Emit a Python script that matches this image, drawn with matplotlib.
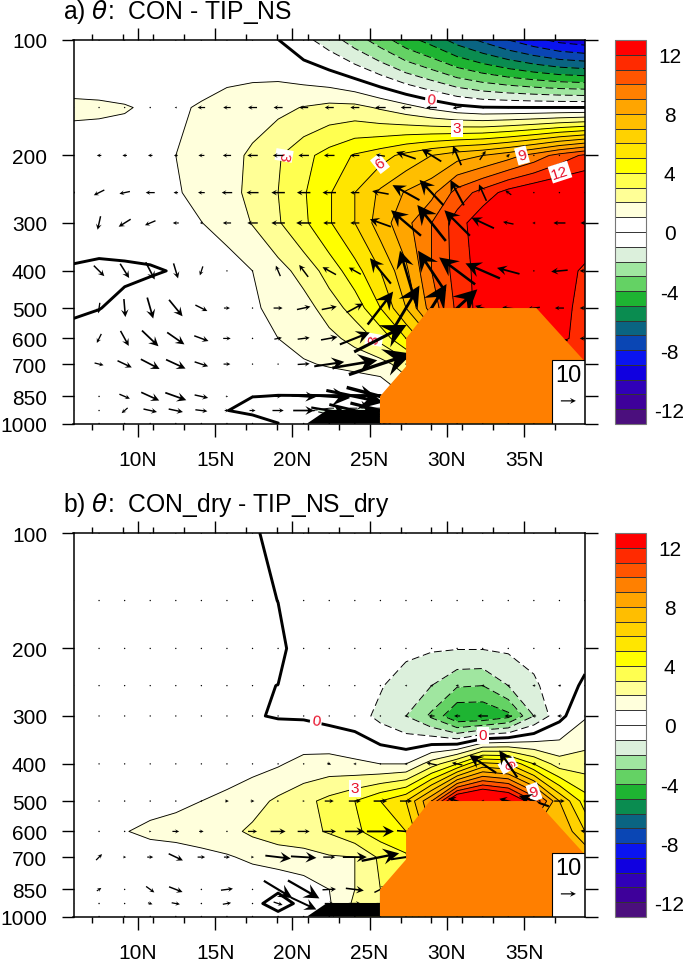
import matplotlib
matplotlib.use("Agg")
import matplotlib.pyplot as plt
import numpy as np
from matplotlib.ticker import NullLocator

plt.rcParams["font.family"] = ["Liberation Sans", "DejaVu Sans"]
plt.rcParams["axes.unicode_minus"] = False

lats = np.linspace(5.82, 38.95, 21)
plevs = [100, 150, 200, 250, 300, 400, 500, 600, 700, 850, 925, 1000]
ytick_vals = [100, 200, 300, 400, 500, 600, 700, 850, 1000]
xtick_vals = [10, 15, 20, 25, 30, 35]
xtick_labels = ["10N", "15N", "20N", "25N", "30N", "35N"]
xminor_vals = [7, 9, 11, 13, 17, 19, 21, 23, 27, 29, 31, 33, 37]
levels = np.arange(-12, 13)
cbar_ticks = [-12, -8, -4, 0, 4, 8, 12]

colors = ["#4B0F7D", "#3E009A", "#3000B8", "#1000E0", "#0A14F0", "#0A46B4", "#0A6482",
          "#0A8C50", "#1EB432", "#64D264", "#A0E6A0", "#DCF0DC", "#FFFFFF", "#FFFFFF",
          "#FFFFDC", "#FFFF96", "#FFFF50", "#FFFF00", "#FFE600", "#FFD200", "#FFBE00",
          "#FFA500", "#FF8000", "#FF5500", "#FF2A00", "#FF0000"]

terrain_lat = [25.67, 25.67, 27.36, 27.36, 28.9, 35.8, 38.95, 38.95]
terrain_p = [1000, 850, 710, 600, 500, 500, 690, 1000]
black_lat = [20.95, 22.24, 25.67, 25.67]
black_p = [1000, 922, 922, 1000]

theta_a = np.array([
    [.2, .2, .2, .2, .2, .2, .3, .3, .02, -.7, -1.5, -2.5, -3.5, -4.6, -5.4, -6.4, -7.2, -8, -8.7, -9.3, -9.6],
    [1.15, 1.12, 1.05, .9, .85, 1.1, 1.36, 1.5, 1.75, 2.05, 2.3, 2.3, 1.87, 1.37, .8, .3, .05, .02, .01, .01, .01],
    [.55, .55, .6, .7, 1.0, 1.25, 1.6, 2.2, 2.9, 3.7, 4.4, 5.1, 5.6, 6.3, 7, 7.6, 8, 8.6, 9.4, 10.4, 11.2],
    [.3, .3, .4, .6, .9, 1.3, 1.6, 2.3, 3, 3.9, 4.9, 6, 7.2, 8.1, 8.7, 10.4, 11.4, 12.4, 13, 13.3, 13.3],
    [.1, .1, .2, .3, .6, .98, 1.4, 2.05, 2.9, 3.8, 4.9, 6, 7.5, 8.7, 10, 11.5, 12.8, 13.3, 13.4, 13.4, 13.4],
    [-.02, -.04, -.06, -.05, .03, .1, .5, 1, 1.6, 2.4, 3.4, 4.6, 6, 7.8, 10, 11.4, 12.5, 13.5, 13.5, 12.8, 11.7],
    [-.1, -.01, .09, .3, .25, .3, .4, .9, 1.2, 1.55, 2.5, 3.4, 5, 7, 9.5, 11.2, 12.5, 13, 13.2, 12.4, 11.6],
    [.21, .2, .2, .2, .2, .2, .2, .5, 1, 1.35, 1.7, 2.35, 3.3, 5, 7, 10, 12, 12.5, 12.5, 12.3, 11.5],
    [.3, .3, .3, .3, .3, .3, .2, .3, .5, .9, 1.1, 1.3, 1.6, 2.5, 4, 6, 8, 9, 10, 10.5, 11],
    [.2, .2, .2, .2, .2, .2, .1, .01, -.02, -.03, -.03, -.04, -.05, 1, 2, 3, 4, 5, 6, 7, 8],
    [.2, .2, .2, .2, .2, .2, .02, -.3, -.5, -.9, -1.2, -1.2, -1.2, 1, 2, 3, 4, 5, 6, 7, 8],
    [.2, .2, .2, .2, .2, .2, .2, .6, .02, -.5, -.5, -.5, -.5, 1, 2, 3, 4, 5, 6, 7, 8],
])

u_a = np.array([
    [0] * 21,
    [0, 0, 0, -1, -1.5, -5, -5, -6, -6, -6, -6, -6, -7, -7, -7, -6, -2, -1, 0, 0, 0],
    [0, -3, -3, -3, -2.5, -4, -5.5, -7, -7, -7, -7, -6, -6, -13, -13, -5.5, 4, 2, 0, 0, 0],
    [-2, -7, -7, -6, -3, -4.5, -7, -8, -9, -9, -9, -6, -11, -18, -16, -9, -5, -4, -1, -1, -.5],
    [-1, -2, -8, -7, -4, -2, -5.5, -7, -9, -10, -8, -6, -14, -20, -19, -17, -15, -7, -2, -8, -6],
    [0, 7, 6, 6, 3, -2, 0, 0, -3, -6, -9, -8, -14, -8, -18, -24, -23, -15, -1, -11, -7],
    [0, -1, 1, 4, 9, 8, 4, .5, 6, 9, 10, 11, 17, 18, 20, 27, -10, -8, -8, -6, -7],
    [0, -3, 5.5, 11, 11.5, 9.5, 5, 1, 5, 8, 11, 20, 35, 0, 0, 0, 0, 0, 0, -11, -7],
    [0, 6, 9.5, 12.5, 13, 9, 4.5, 0, 0, 8, 20, 30, 42, 0, 0, 0, 0, 0, 0, 0, 0],
    [0, 1, 7, 12, 14, 9, 1.5, 1, 4, 16, 28, 38, 45, 0, 0, 0, 0, 0, 0, 0, 0],
    [0, .5, -4, 9, 9.5, 8, 3, 4, 7.5, 14, 24, 34, 40, 0, 0, 0, 0, 0, 0, 0, 0],
    [0] * 21,
])
w_a = np.array([
    [0] * 21,
    [0] * 15 + [-1, 0, 0, 0, 0, 0],
    [0] * 12 + [1, 4.5, 8, 13, 6, 2, 0, 0, 0],
    [0, -3.5, -1.5, 0, 0, 0, 0, 0, 0, 0, 0, 0, 2, 10, 17, 17, 11, 3, 0, 0, 0],
    [0, -9, -5, -3, 0, 0, 0, 0, 0, 0, 0, 0, 5, 17, 24, 17, 7, 1.5, 0, 0, 0],
    [0, -7, -9.5, -11.5, -10, -6, 0, 0, 7, 8, 5, 4.5, 17, 27, 27, 18, 10, 4, 0, -1, 0],
    [0, -7, -12, -14, -11, -4, 0, 0, 0, 2, 2, 6, 22, 30, 32, 25, 3, 1, -1, 0, 0],
    [0, -6, -10, -10.5, -8, -3.5, 0, 0, 1, 1, 2, 8, 18, 0, 0, 0, 0, 0, 0, 3, 0],
    [0, -1.5, -4.5, -6.5, -6, -3, 0, 0, 0, .5, 3, 5, 14, 0, 0, 0, 0, 0, 0, 0, 0],
    [0, 0, -3, -5.5, -5, -2, 0, 0, 0, -1, -2, -8, -12, 0, 0, 0, 0, 0, 0, 0, 0],
    [0, 0, -3.5, -2, -2, -1, 0, 0, 0, 0, -4, -8, -10, 0, 0, 0, 0, 0, 0, 0, 0],
    [0] * 21,
])

theta_b = np.array([
    [.1, .1, .1, .1, .1, .1, .1, .02, -.05, -.05, -.05, -.05, -.05, -.05, -.05, -.05, -.05, -.05, -.05, -.05, -.05],
    [.1, .1, .1, .1, .1, .1, .1, .05, -.002, -.05, -.05, -.05, -.05, -.05, -.05, -.05, -.05, -.05, -.05, -.05, -.05],
    [.1, .1, .1, .1, .1, .1, .1, .1, .05, -.1, -.2, -.3, -.5, -.7, -.9, -.95, -.95, -.85, -.6, -.3, -.2],
    [.1, .1, .1, .1, .1, .1, .1, .02, -.002, -.1, -.2, -.4, -.9, -1.6, -2, -2.9, -3, -2, -1.2, -.3, .1],
    [.1, .1, .1, .1, .1, .1, .1, .05, -.05, -.1, -.3, -.5, -1.3, -2, -3.2, -4.95, -4.95, -4.3, -2, -.3, .9],
    [.3, .3, .3, .3, .3, .4, .5, .7, .9, 1.31, 1.4, 1.2, 1, 1, 2.5, 4, 6.3, 6, 4, 2.5, 2.5],
    [.1, .2, .3, .6, .8, 1, 1.25, 1.6, 2.2, 2.7, 3.3, 4, 5, 6, 9, 14, 15, 14, 11, 7, 4.5],
    [.5, .7, .95, 1.25, 1.35, 1.5, 1.7, 2.2, 2.5, 2.7, 3.1, 3.8, 4.5, 5, 8, 8, 8, 8, 8, 8, 6],
    [.3, .4, .4, .4, .5, .7, .9, 1.2, 1.5, 1.6, 1.9, 2, 3.2, 3.8, 8, 8, 8, 8, 8, 8, 8],
    [.2, .2, .2, .2, .2, .2, .2, .2, .1, .5, 1, 2, 3, 4, 8, 8, 8, 8, 8, 8, 8],
    [.2, .2, .2, .2, .2, .2, .2, .2, -.3, .2, .9, 2.2, 3, 4, 8, 8, 8, 8, 8, 8, 8],
    [.2, .2, .2, .2, .2, .2, .2, .2, .2, .5, .8, 2, 3, 4, 8, 8, 8, 8, 8, 8, 8],
])

u_b = np.array([
    [0] * 21,
    [0] * 21,
    [0] * 21,
    [0, 0, 0, 0, 0, 0, 0, 0, 0, 0, 0, 0, -.5, -1.5, -2, -2, -2, -2, -2, -2, 0],
    [0, 0, 0, 0, 0, 0, 0, 0, 0, 0, 0, 0, -1, -2, -4, -4, -7, -5, -3, -3, 0],
    [0, 0, 0, 0, 0, 0, .5, 0, 1, 1, 2.5, -2, -1, -2, -7, -7, -18, -12, -3, 0, 0],
    [0, 1, 1, 1, 1, .5, 2.5, 2.5, 1.5, 1.5, 6, 8, 9, 8, 0, -12, -2, -12, -20, 7, 2],
    [0, 1, 1, 1.5, 4.5, 3, 1, 6, 10, 8, 9, 13, 18, 12, 0, 0, 0, 0, 0, -6, -6],
    [0, 4, 2, 4, 9.5, 5, 4, 2, 17, 17, 8, 16, 25, 20, 0, 0, 0, 0, 0, 0, 0],
    [0, 3, .5, 5.5, 9, 1, 8, .5, 19, 21, 9, 12, 8, 0, 0, 0, 0, 0, 0, 0, 0],
    [0, 1, .5, 3, 5.5, 1, 5.5, .5, 6, 17, 6, 8, 5, 0, 0, 0, 0, 0, 0, 0, 0],
    [0] * 21,
])
w_b = np.array([
    [0] * 21,
    [0] * 21,
    [0] * 21,
    [0] * 21,
    [0] * 21,
    [0] * 10 + [-1, 0, 0, 0, 1.5, 1.5, 12, 18, 0, 0, 0],
    [0] * 15 + [4, 0, 3, 7, 0, 0],
    [0] * 13 + [-1, 0, 0, 0, 0, 0, 3, 1],
    [0, 4, 0, 0, -4.5, 0, 0, 0, -2, -1, 0, 0, 5, 3, 0, 0, 0, 0, 0, 0, 0],
    [0, 2, 0, -4, -3.5, 0, 1, 0, -11.5, -12, .5, -1.5, 4, 0, 0, 0, 0, 0, 0, 0, 0],
    [0, 0, 0, -1, -1, 0, 1, 0, -2, -8, 0, 0, 0, 0, 0, 0, 0, 0, 0, 0, 0],
    [0] * 21,
])

label_a = [("0", 28.98, 143, -5), ("3", 30.66, 170, 0), ("9", 34.87, 200, 15), ("12", 37.33, 221, 18),
           ("6", 25.67, 210, 38), ("3", 19.46, 200, -100), ("3", 25.28, 604, 80)]
label_b = [("0", 21.53, 308, -8), ("0", 32.34, 337, 0), ("3", 24.05, 463, 0), ("6", 33.96, 403, -60), ("9", 35.65, 474, 20)]


def draw_vector(ax, x, y, u, w, **kw):
    # head and shaft grow with the arrow, quiver only has one width per call
    px = np.hypot(u, w) * 1.5
    wid = 0.95 + 0.036 * px
    hw = max(3.6, 0.42 * px / wid)
    ax.quiver(x, y, u, w, angles="uv", scale_units="inches", scale=66.7, units="inches",
              width=wid / 100, headwidth=hw, headlength=hw, headaxislength=hw * 0.68,
              minlength=1.6, pivot="mid", color="k", **kw)


def draw_panel(top, title, theta, u, w, labels):
    ax = fig.add_axes([73.5 / 685, 1 - (top + 383.5) / 962, 511.5 / 685, 383.5 / 962])
    cf = ax.contourf(lats, plevs, theta, levels=levels, colors=colors, extend="both")
    ax.contour(lats, plevs, theta, levels=levels[levels > 0], colors="k", linewidths=0.65)
    ax.contour(lats, plevs, theta, levels=levels[levels < 0], colors="k", linewidths=0.7,
               linestyles=[(0, (8, 4))])
    ax.contour(lats, plevs, theta, levels=[0], colors="k", linewidths=2.1)

    for txt, la, pr, rot in labels:
        ax.text(la, pr, txt, color="#E8102A", fontsize=11, rotation=rot, ha="center", va="center",
                zorder=2.2, bbox=dict(fc="w", ec="none", pad=1.2))

    for j in range(len(plevs)):
        for i in range(len(lats)):
            draw_vector(ax, lats[i], plevs[j], u[j, i], w[j, i], zorder=2.5)

    ax.fill(black_lat, black_p, color="k", lw=0, zorder=3)
    ax.fill(terrain_lat, terrain_p, color="#FF7F00", lw=0, zorder=3.1)

    ax.set_yscale("log")
    ax.set_xlim(lats[0], lats[-1])
    ax.set_ylim(1000, 100)
    ax.set_yticks(ytick_vals)
    ax.set_yticklabels([str(v) for v in ytick_vals])
    ax.yaxis.set_minor_locator(NullLocator())
    ax.set_xticks(xtick_vals)
    ax.set_xticklabels(xtick_labels)
    ax.set_xticks(xminor_vals, minor=True)
    ax.tick_params(which="major", direction="out", length=9, width=1, top=True, right=True, labelsize=15)
    ax.tick_params(which="minor", direction="out", length=4.5, width=1, top=True, bottom=True)
    ax.tick_params(axis="x", pad=10)
    ax.tick_params(axis="y", pad=10)
    for sp in ax.spines.values():
        sp.set_zorder(5)
        sp.set_linewidth(1.1)

    # reference vector box
    ax.add_patch(plt.Rectangle((0.9355, 0), 0.0645, 0.166, transform=ax.transAxes, fc="w", ec="k", lw=0.8, zorder=4))
    ax.text(0.9675, 0.127, "10", transform=ax.transAxes, fontsize=17, ha="center", va="center", zorder=4.2)
    ax.quiver(0.9675, 0.059, 10, 0, angles="uv", scale_units="inches", scale=66.7, units="inches",
              width=0.012, headwidth=5, headlength=5, headaxislength=3.4, pivot="mid", color="k",
              transform=ax.transAxes, zorder=4.2)

    cax = fig.add_axes([615 / 685, 1 - (top + 384) / 962, 31 / 685, 384 / 962])
    cb = fig.colorbar(cf, cax=cax, extendrect=True, extendfrac=1 / 24, drawedges=True, ticks=cbar_ticks)
    cb.dividers.set_linewidth(0.7)
    cb.dividers.set_color("#333333")
    cb.outline.set_linewidth(0.8)
    cb.outline.set_edgecolor("#777777")
    cax.tick_params(length=0, pad=17, labelsize=15)
    for lab in cax.get_yticklabels():
        lab.set_ha("center")

    fig.text(63 / 685, 1 - (top - 22) / 962, title, fontsize=17.8, va="baseline", ha="left")


fig = plt.figure(figsize=(6.85, 9.62), dpi=100)
draw_panel(41, r"a) $\theta$:  CON - TIP_NS", theta_a, u_a, w_a, label_a)
draw_panel(534, r"b) $\theta$:  CON_dry - TIP_NS_dry", theta_b, u_b, w_b, label_b)
fig.savefig("out.png", dpi=100)
